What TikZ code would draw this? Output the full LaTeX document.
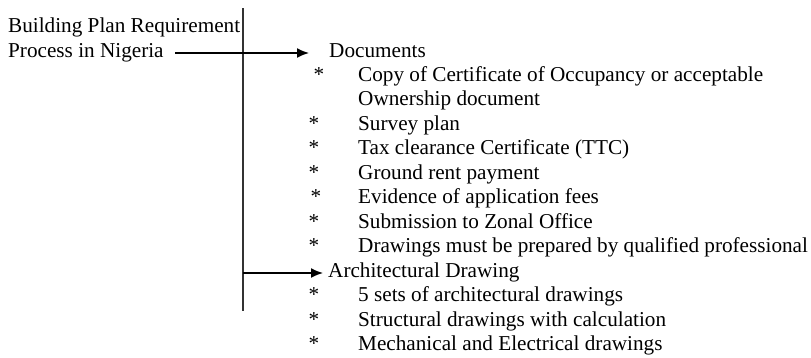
\documentclass[tikz,border=0pt]{standalone}
\usepackage{fontspec}
\setmainfont{Liberation Serif}
\usetikzlibrary{arrows.meta}

\tikzset{
  txt/.style={anchor=base west, inner sep=0pt, font=\fontsize{21.2}{24}\selectfont},
  star/.style={anchor=base, inner sep=0pt, font=\fontsize{21.2}{24}\selectfont},
  link/.style={-{Latex[length=12pt,width=10pt]}, line width=1.6pt}
}

\begin{document}
\begin{tikzpicture}[x=1pt,y=-1pt]
  \useasboundingbox (0,0) rectangle (811,357);

  % Define the nodes
  \node[txt] (title1) at (8,32.5) {Building Plan Requirement};
  \node[txt] (title2) at (8,57) {Process in Nigeria};

  \node[txt] (docs) at (329,57) {Documents};
  \node[star] (s1) at (319,81) {*};
  \node[txt] (d1) at (358,81) {Copy of Certificate of Occupancy or acceptable};
  \node[txt] (d1b) at (358,105.5) {Ownership document};
  \node[star] (s2) at (314,130) {*};
  \node[txt] (d2) at (358,130) {Survey plan};
  \node[star] (s3) at (314,154.5) {*};
  \node[txt] (d3) at (358,154.5) {Tax clearance Certificate (TTC)};
  \node[star] (s4) at (314,179) {*};
  \node[txt] (d4) at (358,179) {Ground rent payment};
  \node[star] (s5) at (316,203.5) {*};
  \node[txt] (d5) at (358,203.5) {Evidence of application fees};
  \node[star] (s6) at (314,228) {*};
  \node[txt] (d6) at (358,228) {Submission to Zonal Office};
  \node[star] (s7) at (314,252.5) {*};
  \node[txt] (d7) at (358,252.5) {Drawings must be prepared by qualified professional};

  \node[txt] (arch) at (328,277) {Architectural Drawing};
  \node[star] (s8) at (314,301.5) {*};
  \node[txt] (a1) at (358,301.5) {5 sets of architectural drawings};
  \node[star] (s9) at (314,326) {*};
  \node[txt] (a2) at (358,326) {Structural drawings with calculation};
  \node[star] (s10) at (314,350.5) {*};
  \node[txt] (a3) at (358,350.5) {Mechanical and Electrical drawings};

  % Vertical divider and the points the arrows leave from
  \coordinate (top) at (243,8);
  \coordinate (bottom) at (243,311);
  \coordinate (start) at (175,53);
  \coordinate (branch) at (243,273);

  \draw[line width=1.1pt, black!80] (top) -- (bottom);

  % Draw arrows to the two groups
  \draw[link] (start) -- ([xshift=-20pt]docs.west |- start);
  \draw[link] (branch) -- ([xshift=-5pt]arch.west |- branch);
\end{tikzpicture}
\end{document}
